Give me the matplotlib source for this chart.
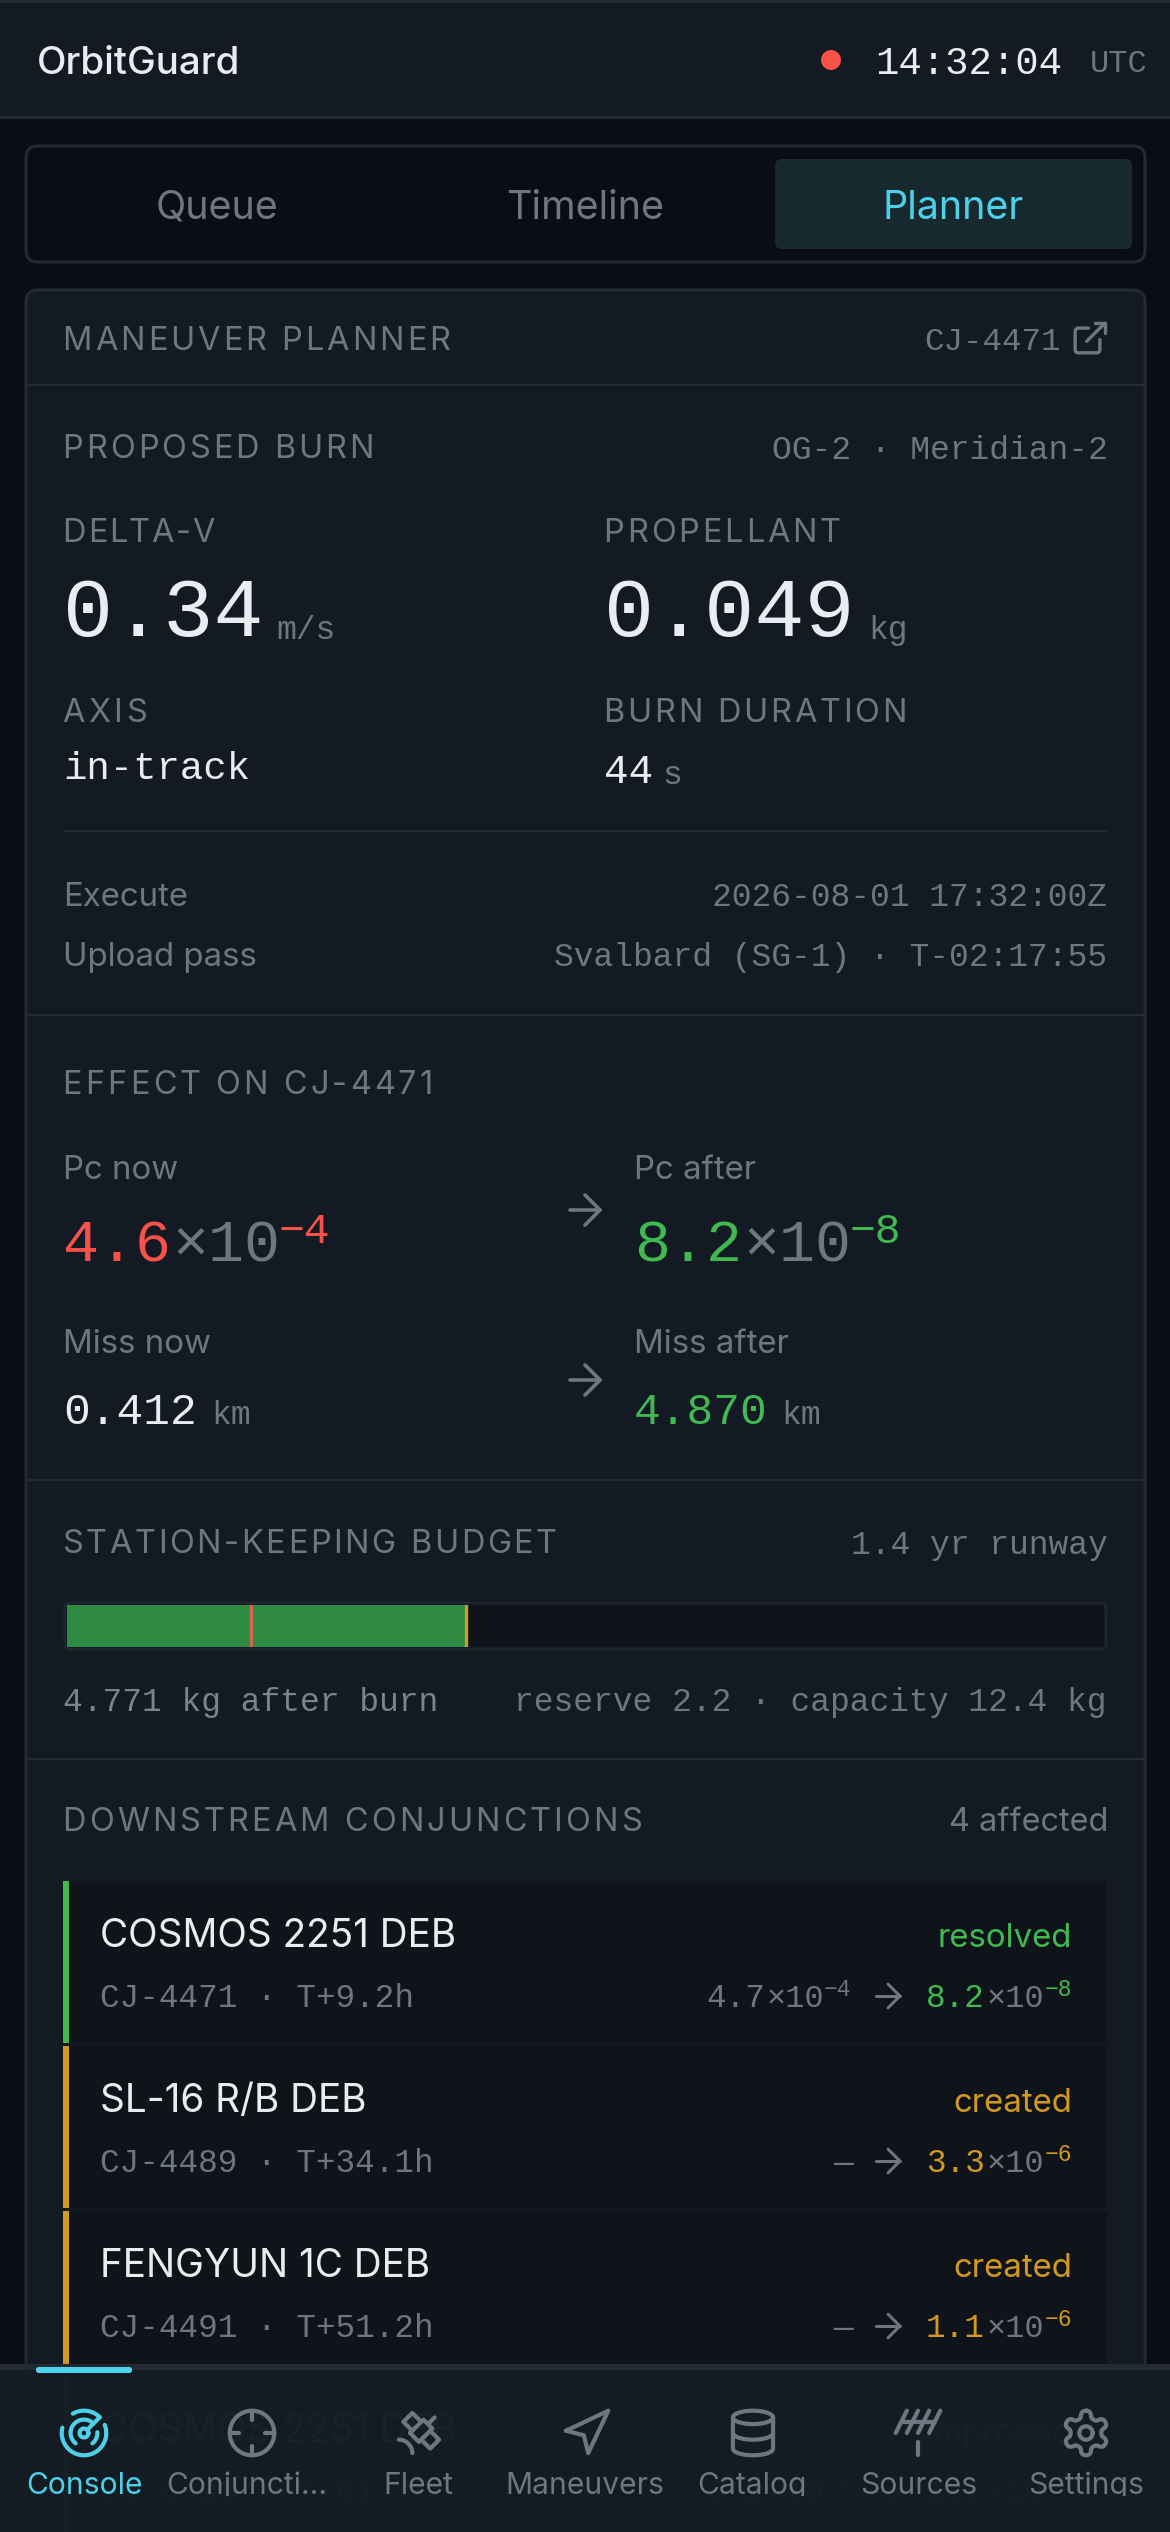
import re, math
import matplotlib
matplotlib.use("Agg")
import matplotlib.pyplot as plt
from matplotlib.patches import FancyBboxPatch, Rectangle, Circle
from matplotlib.lines import Line2D
from matplotlib.text import Text
from matplotlib.transforms import Bbox

# ---------- data ----------
TABS = ["Queue", "Timeline", "Planner"]
NAV_LABELS = ["Console", "Conjuncti...", "Fleet", "Maneuvers", "Catalog", "Sources", "Settings"]
DELTA_V = "0.34"
PROPELLANT = "0.049"
BURN_DURATION = "44"
EXECUTE = "2026-08-01 17:32:00Z"
UPLOAD = "Svalbard (SG-1) · T-02:17:55"
CAPACITY_KG = 12.4
RESERVE_KG = 2.2
REMAINING_KG = 4.771
ROW_NAMES = ["COSMOS 2251 DEB", "SL-16 R/B DEB", "FENGYUN 1C DEB", "COSMOS 2251 DEB"]
ROW_IDS = ["CJ-4471 · T+9.2h", "CJ-4489 · T+34.1h", "CJ-4491 · T+51.2h", "CJ-4493 · T+61.4h"]
ROW_STATUS = ["resolved", "created", "created", "improved"]
ROW_BEFORE = [("4.7", "−4"), None, None, ("3.2", "−6")]
ROW_AFTER = [("8.2", "−8"), ("3.3", "−6"), ("1.1", "−6"), ("1.1", "−6")]

# ---------- style ----------
PAGE = "#0a0e14"; PANEL = "#141a23"; LINE = "#222b35"; ROWBG = "#0f141b"
WHITE = "#e8edf2"; MUTED = "#6e7681"; CYAN = "#4dd0e8"
RED = "#f85149"; GREEN = "#3fb950"; AMBER = "#d29922"
SANS = "Inter"; MONO = "Liberation Mono"
STATUS_COL = {"resolved": GREEN, "created": AMBER, "improved": GREEN}

fig = plt.figure(figsize=(11.7, 25.32), dpi=100, facecolor=PAGE)
ax = fig.add_axes([0, 0, 1, 1])
ax.set_xlim(0, 1170); ax.set_ylim(2532, 0); ax.axis("off")
renderer = fig.canvas.get_renderer()


class Spaced(Text):
    """A single text whose letters are drawn with CSS-like letter spacing."""
    spacing = 0.0

    def get_window_extent(self, renderer=None, dpi=None):
        bb = super().get_window_extent(renderer, dpi)
        return Bbox.from_extents(bb.x0, bb.y0, bb.x1 + self.spacing * (len(self.get_text()) - 1), bb.y1)

    def draw(self, renderer):
        if not self.get_visible():
            return
        x, y = self.get_transform().transform(self.get_position())
        gc = renderer.new_gc()
        gc.set_foreground(self.get_color())
        prop = self.get_fontproperties()
        s = self.get_text()
        W = lambda q: renderer.get_text_width_height_descent(q, prop, False)[0]
        base = W("H")
        for j, ch in enumerate(s):
            off = W(s[:j] + "H") - base if j else 0
            renderer.draw_text(gc, x + off + j * self.spacing, renderer.height - y, ch, prop, 0)
        gc.restore()


def S(x, yc, s, target_w, px=32.5, color=MUTED, z=5):
    """Letter-spaced caps label, spread over the given pixel width."""
    t = Spaced(x - 1.5, yc + 0.35 * px, s, fontsize=px * 0.72, color=color, family=SANS, ha="left",
               va="baseline", zorder=z, clip_on=False)
    ax._add_text(t)
    natural = t.get_window_extent(renderer).width
    t.spacing = (target_w - natural) / (len(s) - 1)
    return t


def T(x, yc, s, px, color=WHITE, fam=SANS, ha="left", w=None, z=5, weight="normal", capk=0.35):
    t = ax.text(x, yc + capk * px, s, fontsize=px * 0.72, color=color, family=fam, ha=ha,
                va="baseline", zorder=z, weight=weight)
    if w is not None:
        cur = t.get_window_extent(renderer).width
        new_px = px * w / cur
        t.set_fontsize(new_px * 0.72)
        t.set_y(yc + capk * new_px)
    return t


def box(x0, y0, x1, y1, r=0, fc=PANEL, ec="none", lw=0, z=1):
    p = FancyBboxPatch((x0, y0), x1 - x0, y1 - y0, boxstyle=f"round,pad=0,rounding_size={r}",
                       fc=fc, ec=ec, lw=lw, zorder=z)
    ax.add_patch(p)
    return p


def arc_pts(x1, y1, rx, ry, fa, fs, x2, y2, n=24):
    dx, dy = (x1 - x2) / 2, (y1 - y2) / 2
    lam = dx ** 2 / rx ** 2 + dy ** 2 / ry ** 2
    if lam > 1:
        rx *= math.sqrt(lam); ry *= math.sqrt(lam)
    num = rx ** 2 * ry ** 2 - rx ** 2 * dy ** 2 - ry ** 2 * dx ** 2
    den = rx ** 2 * dy ** 2 + ry ** 2 * dx ** 2
    k = math.sqrt(max(0, num / den)) if den else 0
    if bool(fa) == bool(fs):
        k = -k
    cxp, cyp = k * rx * dy / ry, -k * ry * dx / rx
    cx, cy = cxp + (x1 + x2) / 2, cyp + (y1 + y2) / 2
    a1 = math.atan2((dy - cyp) / ry, (dx - cxp) / rx)
    a2 = math.atan2((-dy - cyp) / ry, (-dx - cxp) / rx)
    da = a2 - a1
    if fs and da < 0:
        da += 2 * math.pi
    if not fs and da > 0:
        da -= 2 * math.pi
    return [(cx + rx * math.cos(a1 + da * j / n), cy + ry * math.sin(a1 + da * j / n)) for j in range(1, n + 1)]


def parse_svg(d):
    toks = re.findall(r"[MmLlHhVvAaZz]|-?\d*\.?\d+", d)
    i = 0; cmd = None; x = y = 0.0; sx = sy = 0.0
    subs = []; cur = []

    def num():
        nonlocal i
        v = float(toks[i]); i += 1
        return v
    while i < len(toks):
        if re.match(r"[A-Za-z]", toks[i]):
            cmd = toks[i]; i += 1
        if cmd in "Mm":
            a, b = num(), num()
            if cmd == "m":
                a += x; b += y
            x, y = a, b; sx, sy = x, y
            if cur:
                subs.append(cur)
            cur = [(x, y)]
            cmd = "L" if cmd == "M" else "l"
        elif cmd in "Ll":
            a, b = num(), num()
            if cmd == "l":
                a += x; b += y
            x, y = a, b; cur.append((x, y))
        elif cmd in "Hh":
            a = num(); x = a + x if cmd == "h" else a; cur.append((x, y))
        elif cmd in "Vv":
            a = num(); y = a + y if cmd == "v" else a; cur.append((x, y))
        elif cmd in "Aa":
            rx, ry, rot, fa, fs, a, b = [num() for _ in range(7)]
            if cmd == "a":
                a += x; b += y
            cur.extend(arc_pts(x, y, rx, ry, fa, fs, a, b))
            x, y = a, b
        elif cmd in "Zz":
            cur.append((sx, sy)); x, y = sx, sy
    if cur:
        subs.append(cur)
    return subs


def icon(paths, cx, cy, s, color=MUTED, lw=4.4, z=22):
    for d in paths:
        for sub in parse_svg(d):
            xs = [cx + (p[0] - 12) * s for p in sub]
            ys = [cy + (p[1] - 12) * s for p in sub]
            ax.add_line(Line2D(xs, ys, color=color, lw=lw * 0.72, zorder=z,
                               solid_capstyle="round", solid_joinstyle="round"))


ARROW = ["M5 12h14", "m12 5 7 7-7 7"]
EXT = ["M15 3h6v6", "M10 14 21 3", "M18 13v6a2 2 0 0 1-2 2H5a2 2 0 0 1-2-2V8a2 2 0 0 1 2-2h6"]
CIRCLE10 = "M22 12A10 10 0 1 1 2 12A10 10 0 1 1 22 12"
NAV_ICONS = [
    ["M19.07 4.93A10 10 0 0 0 6.99 3.34", "M4 6h.01", "M2.29 9.62A10 10 0 1 0 21.31 8.35",
     "M16.24 7.76A6 6 0 1 0 8.23 16.67", "M12 18h.01", "M17.99 11.66A6 6 0 0 1 15.77 16.67",
     "M14 12A2 2 0 1 1 10 12A2 2 0 1 1 14 12", "m13.41 10.59 5.66-5.66"],
    [CIRCLE10, "M22 12h-4", "M6 12H2", "M12 6V2", "M12 22v-4"],
    ["M13 7 9 3 5 7l4 4", "m17 11 4 4-4 4-4-4", "m8 12 4 4 6-6-4-4Z", "m16 8 3-3", "M9 21a6 6 0 0 0-6-6"],
    ["M3 11 22 2 13 21 11 13 3 11Z"],
    ["M21 5A9 3 0 1 1 3 5A9 3 0 1 1 21 5", "M3 5V19A9 3 0 0 0 21 19V5", "M3 12A9 3 0 0 0 21 12"],
    ["M2 12 7 2", "m7 12 5-10", "m12 12 5-10", "m17 12 5-10", "M4.5 7h15", "M12 16v6"],
    ["M12.22 2h-.44a2 2 0 0 0-2 2v.18a2 2 0 0 1-1 1.73l-.43.25a2 2 0 0 1-2 0l-.15-.08a2 2 0 0 0-2.73.73l-.22.38a2 2 0 0 0 .73 2.73l.15.1a2 2 0 0 1 1 1.72v.51a2 2 0 0 1-1 1.74l-.15.09a2 2 0 0 0-.73 2.73l.22.38a2 2 0 0 0 2.73.73l.15-.08a2 2 0 0 1 2 0l.43.25a2 2 0 0 1 1 1.73V20a2 2 0 0 0 2 2h.44a2 2 0 0 0 2-2v-.18a2 2 0 0 1 1-1.73l.43-.25a2 2 0 0 1 2 0l.15.08a2 2 0 0 0 2.73-.73l.22-.39a2 2 0 0 0-.73-2.73l-.15-.08a2 2 0 0 1-1-1.74v-.5a2 2 0 0 1 1-1.74l.15-.09a2 2 0 0 0 .73-2.73l-.22-.38a2 2 0 0 0-2.73-.73l-.15.08a2 2 0 0 1-2 0l-.43-.25a2 2 0 0 1-1-1.73V4a2 2 0 0 0-2-2z",
     "M15 12A3 3 0 1 1 9 12A3 3 0 1 1 15 12"],
]
NAV_X = [84, 252, 419, 586, 753, 918, 1086]
NAV_LABEL_X = [84, 247, 418, 585, 752, 919, 1086]

# ---------- header ----------
ax.add_patch(Rectangle((0, 0), 1170, 118, fc=PANEL, zorder=1))
ax.add_patch(Rectangle((0, 0), 1170, 3, fc=LINE, zorder=2))
ax.add_patch(Rectangle((0, 116), 1170, 3, fc=LINE, zorder=2))
T(37, 61, "OrbitGuard", 38, WHITE, weight="medium", w=204)
ax.add_patch(Circle((831, 60), 10, fc=RED, zorder=5))
T(875, 60, "14:32:04", 39, WHITE, MONO)
T(1147, 61, "UTC", 32, MUTED, MONO, ha="right")

# ---------- tabs ----------
box(26, 146, 1145, 262, r=12, fc=PAGE, ec=LINE, lw=2.2)
box(775, 159, 1132, 249, r=7, fc="#16292f", z=2)
for cx, lab, col in zip([217, 585, 953], TABS, [MUTED, MUTED, CYAN]):
    T(cx, 205, lab, 39.5, col, ha="center")

# ---------- main panel ----------
box(26, 290, 1145, 2600, r=12, fc=PANEL, ec=LINE, lw=2.2)
for y in [385, 1015, 1480, 1759]:
    ax.add_patch(Rectangle((26, y - 1.3), 1119, 2.6, fc=LINE, zorder=2))

S(64, 339, "MANEUVER PLANNER", 388)
T(1061, 339, "CJ-4471", 32.5, MUTED, MONO, ha="right")
icon(EXT, 1090, 338, 1.65, MUTED, lw=3.4, z=5)

S(64, 447, "PROPOSED BURN", 311)
T(1108, 447, "OG-2 · Meridian-2", 33, MUTED, MONO, ha="right")
S(64, 531, "DELTA-V", 152)
S(605, 531, "PROPELLANT", 237)
T(63, 607, DELTA_V, 83.5, WHITE, MONO)
T(276, 627, "m/s", 33, MUTED, MONO)
T(604, 607, PROPELLANT, 83.5, WHITE, MONO)
T(868, 627, "kg", 33, MUTED, MONO)
S(64, 711, "AXIS", 84)
S(605, 711, "BURN DURATION", 303)
T(63, 765, "in-track", 39, WHITE, MONO)
T(604, 769, BURN_DURATION, 41, WHITE, MONO)
T(662, 772, "s", 33, MUTED, MONO)
ax.add_patch(Rectangle((64, 830), 1043, 2.4, fc=LINE, zorder=2))
T(63, 894, "Execute", 33, MUTED)
T(1107.5, 894, EXECUTE, 33, MUTED, MONO, ha="right")
T(63, 954, "Upload pass", 33, MUTED)
T(1107.5, 954, UPLOAD, 33, MUTED, MONO, ha="right")

# ---------- effect ----------
S(64, 1083, "EFFECT ON CJ-4471", 370)
T(63, 1167, "Pc now", 33, MUTED)
T(634, 1167, "Pc after", 33, MUTED)
for x0, mant, exp, col in [(63, "4.6", "−4", RED), (634, "8.2", "−8", GREEN)]:
    T(x0, 1240, mant, 60, col, MONO)
    T(x0 + 109, 1240, "×10", 60, MUTED, MONO)
    T(x0 + 216, 1228, exp, 43, col, MONO)
icon(ARROW, 585, 1210, 2.15, MUTED, lw=3.6, z=5)
icon(ARROW, 585, 1380, 2.15, MUTED, lw=3.6, z=5)
T(63, 1341, "Miss now", 33, MUTED)
T(634, 1341, "Miss after", 33, MUTED)
T(63, 1408, "0.412", 44.5, WHITE, MONO)
T(211, 1412, "km", 33, MUTED, MONO)
T(634, 1408, "4.870", 44.5, GREEN, MONO)
T(781, 1412, "km", 33, MUTED, MONO)

# ---------- budget ----------
S(64, 1542, "STATION-KEEPING BUDGET", 494)
T(1108, 1542, "1.4 yr runway", 33, MUTED, MONO, ha="right")
box(65, 1603, 1106, 1649, r=5, fc=ROWBG, ec="#1d252e", lw=2.2, z=2)
bax = fig.add_axes([67 / 1170, 1 - 1647 / 2532, 1037 / 1170, 42 / 2532], zorder=3)
bax.set_xlim(0, CAPACITY_KG); bax.set_ylim(0, 1); bax.axis("off")
bax.barh(0.5, REMAINING_KG, height=1, left=0, color="#2f8a43", zorder=1)
bax.axvline(RESERVE_KG, color="#d9644f", lw=2.4)
bax.axvline(REMAINING_KG, color="#c8a02a", lw=2.4)
T(63, 1699, f"{REMAINING_KG} kg after burn", 33, "#7b838d", MONO)
T(1107, 1699, f"reserve {RESERVE_KG} · capacity {CAPACITY_KG} kg", 33, "#6e7681", MONO, ha="right")

# ---------- downstream ----------
S(64, 1820, "DOWNSTREAM CONJUNCTIONS", 579)
T(1108, 1820, "4 affected", 32.5, MUTED, ha="right")
ROW_H = 165
for i in range(len(ROW_NAMES)):
    y0 = 1881 + i * ROW_H
    st = ROW_STATUS[i]; col = STATUS_COL[st]
    ax.add_patch(Rectangle((63, y0), 1044, ROW_H - 3, fc=ROWBG, zorder=2))
    ax.add_patch(Rectangle((63, y0), 6, ROW_H - 3, fc=col, zorder=3))
    T(100, y0 + 52, ROW_NAMES[i], 38.7, WHITE)
    T(1072, y0 + 54, st, 33, col, ha="right")
    T(100, y0 + 115, ROW_IDS[i], 32.7, MUTED, MONO)
    # probability run, laid out right to left
    R = 1072
    m, e = ROW_AFTER[i]
    T(R, y0 + 107, e, 23, col, MONO, ha="right")
    T(R - 28, y0 + 115, "×10", 32, MUTED, MONO, ha="right")
    T(R - 87, y0 + 115, m, 32.7, col, MONO, ha="right")
    icon(ARROW, 888, y0 + 115, 1.7, MUTED, lw=3, z=5)
    if ROW_BEFORE[i] is None:
        T(853, y0 + 115, "—", 32.7, MUTED, MONO, ha="right")
    else:
        bm, be = ROW_BEFORE[i]
        T(851, y0 + 107, be, 23, MUTED, MONO, ha="right")
        T(824, y0 + 115, "×10", 32, MUTED, MONO, ha="right")
        T(765, y0 + 115, bm, 32.7, MUTED, MONO, ha="right")

# ---------- bottom navigation ----------
ax.add_patch(Rectangle((0, 2366), 1170, 170, fc="#141c24", alpha=0.98, zorder=20))
ax.add_patch(Rectangle((0, 2364), 1170, 6, fc=LINE, zorder=21))
box(36, 2367, 132, 2373, r=2.5, fc=CYAN, z=22)
clip = Bbox([[0, 2532 - 2495.5], [1170, 2532 - 2366]])
for k, lab in enumerate(NAV_LABELS):
    col = CYAN if k == 0 else MUTED
    icon(NAV_ICONS[k], NAV_X[k], 2433, 2.23, col, lw=4.2)
    t = T(NAV_LABEL_X[k], 2483, lab, 30, col, ha="center", z=22)
    t.set_clip_on(True)
    t.set_clip_box(clip)
    t.set_clip_path(None)

fig.savefig("out.png", dpi=100, facecolor=PAGE)
